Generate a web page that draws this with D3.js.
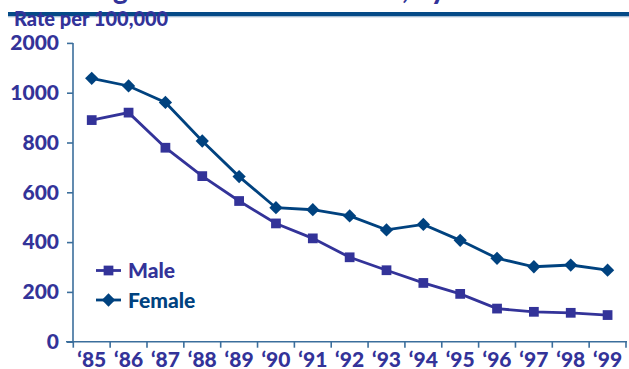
<!DOCTYPE html>
<html>
<head>
<meta charset="utf-8">
<script src="https://cdn.jsdelivr.net/npm/d3@7"></script>
<style>
  html, body { margin: 0; padding: 0; background: #fff; }
  svg { display: block; }
  text { font-family: Lato, "Open Sans", sans-serif; font-weight: 900; }
</style>
</head>
<body>
<svg id="chart" width="629" height="369"></svg>
<script>
// Years shown along the bottom axis
const years = ["‘85","‘86","‘87","‘88","‘89","‘90","‘91","‘92","‘93","‘94","‘95","‘96","‘97","‘98","‘99"];
// Rates per 100,000
const maleRates   = [890, 920, 779, 665, 565, 475, 415, 339, 287, 236, 192, 133, 120, 116, 107];
const femaleRates = [1058, 1027, 961, 806, 663, 538, 530, 505, 449, 471, 407, 335, 301, 308, 287];
// Vertical axis ticks and the labels printed beside them
const yTickValues = [0, 200, 400, 600, 800, 1000, 1200];
const yTickLabels = ["0", "200", "400", "600", "800", "1000", "2000"];

const maleColor = "#333399";
const femaleColor = "#00427f";
const axisColor = "#3b6e9c";

const svg = d3.select("#chart");

// Heading, running off the top edge
svg.append("text")
  .attr("x", 10).attr("y", -1.5)
  .attr("font-size", 28)
  .attr("fill", "#333399")
  .text("Declining AIDS Incidence Rates, by Gender");

// Rule under the heading
svg.append("rect").attr("x", 8).attr("y", 12).attr("width", 621).attr("height", 4.5).attr("fill", "#054a87");
svg.append("rect").attr("x", 8).attr("y", 16.5).attr("width", 621).attr("height", 1).attr("fill", "#c9d6e6");

svg.append("text")
  .attr("x", 14).attr("y", 26)
  .attr("font-size", 20)
  .attr("fill", "#333399")
  .text("Rate per 100,000");

const x = d3.scaleBand().domain(years).range([73.3, 626]);
const y = d3.scaleLinear().domain([0, 1200]).range([341.7, 42.9]);

// Y axis
const yAxis = d3.axisLeft(y)
  .tickValues(yTickValues)
  .tickFormat((d, i) => yTickLabels[i])
  .tickSize(6)
  .tickPadding(8);
const gy = svg.append("g").attr("transform", "translate(73,0)").call(yAxis);
gy.select(".domain").attr("stroke", axisColor).attr("stroke-width", 1.6).attr("d", `M0,${y(1200)}V${y(0)}`);
gy.selectAll(".tick line").attr("stroke", axisColor).attr("stroke-width", 1.6);
gy.selectAll(".tick text").attr("fill", "#333399").attr("font-size", 21).attr("font-family", "Lato, sans-serif").attr("font-weight", 900);

// X axis: ticks at band boundaries, labels centred in each band
const gx = svg.append("g");
gx.append("line")
  .attr("x1", 66).attr("x2", 627)
  .attr("y1", y(0)).attr("y2", y(0))
  .attr("stroke", axisColor).attr("stroke-width", 1.6);
const bounds = years.map(d => x(d)).concat([x.range()[1]]);
gx.selectAll("line.xt").data(bounds).join("line")
  .attr("class", "xt")
  .attr("x1", d => d).attr("x2", d => d)
  .attr("y1", y(0)).attr("y2", y(0) + 6)
  .attr("stroke", axisColor).attr("stroke-width", 1.6);
gx.selectAll("text").data(years).join("text")
  .attr("x", d => x(d) + x.bandwidth() / 2)
  .attr("y", 366.5)
  .attr("text-anchor", "middle")
  .attr("font-size", 21)
  .attr("fill", "#333399")
  .text(d => d);

const cx = d => x(d) + x.bandwidth() / 2;
const line = d3.line().x(d => cx(d.year)).y(d => y(d.v));

const series = [
  { name: "Male", values: maleRates, color: maleColor, symbol: d3.symbolSquare, size: 95, rot: 0 },
  { name: "Female", values: femaleRates, color: femaleColor, symbol: d3.symbolSquare, size: 88, rot: 45 }
];

series.forEach(s => {
  const pts = years.map((yr, i) => ({ year: yr, v: s.values[i] }));
  svg.append("path")
    .datum(pts)
    .attr("d", line)
    .attr("fill", "none")
    .attr("stroke", s.color)
    .attr("stroke-width", 2.8);
  svg.selectAll(null).data(pts).join("path")
    .attr("d", d3.symbol().type(s.symbol).size(s.size))
    .attr("transform", d => `translate(${cx(d.year)},${y(d.v)}) rotate(${s.rot})`)
    .attr("fill", s.color);
});

// Legend
const legend = svg.append("g");
series.forEach((s, i) => {
  const ly = 270.5 + i * 29.5;
  legend.append("line")
    .attr("x1", 96).attr("x2", 121)
    .attr("y1", ly).attr("y2", ly)
    .attr("stroke", s.color).attr("stroke-width", 2.8);
  legend.append("path")
    .attr("d", d3.symbol().type(s.symbol).size(s.size)())
    .attr("transform", `translate(108.5,${ly}) rotate(${s.rot})`)
    .attr("fill", s.color);
  legend.append("text")
    .attr("x", 128).attr("y", ly + 7.5)
    .attr("font-size", 21)
    .attr("fill", s.color)
    .text(s.name);
});
</script>
</body>
</html>
